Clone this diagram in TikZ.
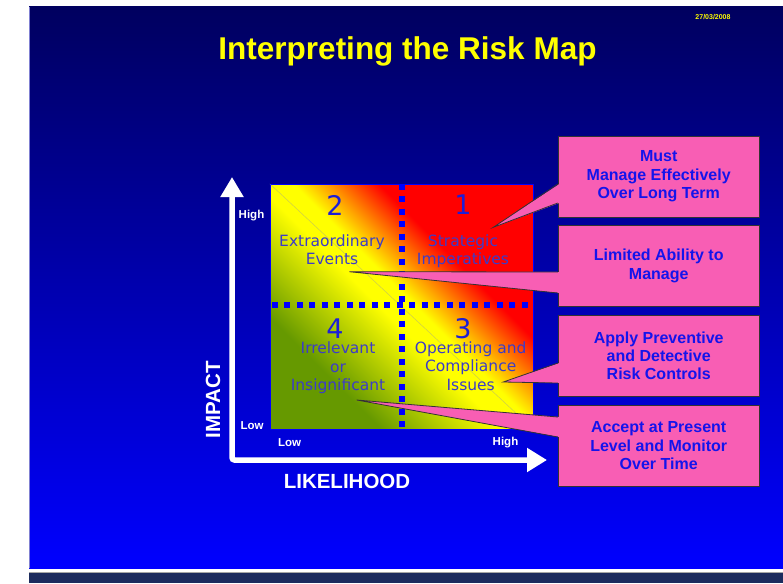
\documentclass[tikz,border=0pt]{standalone}
\usepackage{fontspec}
\setmainfont{Liberation Sans}
\newfontfamily\verd{DejaVu Sans}
\usetikzlibrary{arrows.meta,calc}
\definecolor{slidetop}{RGB}{0,0,95}
\definecolor{slidebot}{RGB}{0,0,255}
\definecolor{barcol}{RGB}{28,43,94}
\definecolor{rmgreen}{RGB}{102,153,0}
\definecolor{rmyellow}{RGB}{255,255,0}
\definecolor{rmorange}{RGB}{255,150,0}
\definecolor{rmred}{RGB}{255,0,0}
\definecolor{qtext}{RGB}{60,60,200}
\definecolor{qnum}{RGB}{30,30,215}
\definecolor{calloutpink}{RGB}{248,94,180}
\definecolor{calltext}{RGB}{20,20,235}
\definecolor{titleyellow}{RGB}{255,255,0}
\pgfdeclareverticalshading{riskmap}{100bp}{color(0bp)=(rmgreen); color(30bp)=(rmgreen); color(47bp)=(rmyellow); color(52bp)=(rmyellow); color(57bp)=(rmorange); color(64bp)=(rmred); color(100bp)=(rmred)}
\begin{document}
\begin{tikzpicture}[x=1pt,y=-1pt,
  qnumst/.style={font=\verd\fontsize{27}{27}\selectfont, text=qnum, inner sep=0pt},
  qtextst/.style={font=\verd\fontsize{15.5}{18.3}\selectfont, text=qtext, align=center, inner sep=0pt},
  axlab/.style={font=\bfseries\fontsize{11.5}{12}\selectfont, text=white, inner sep=0pt},
  axtitle/.style={font=\bfseries\fontsize{20.5}{22}\selectfont, text=white, inner sep=0pt},
  callbox/.style={draw=black!80, line width=0.8pt, fill=calloutpink, minimum width=201pt, minimum height=81pt, inner sep=0pt, align=center, text=calltext, font=\bfseries\fontsize{16}{18.3}\selectfont},
  pointer/.style={fill=calloutpink},
  pointeredge/.style={draw=black!80, line width=0.8pt},
  divider/.style={draw=blue, line width=6pt, dash pattern=on 6pt off 6.5pt},
  axisarrow/.style={draw=white, line width=5.5pt, rounded corners=2.5pt, {Triangle[width=22pt,length=20pt]}-{Triangle[width=23pt,length=20pt]}}
]
\useasboundingbox (0,0) rectangle (783,583);
% slide background
\shade[top color=slidetop, bottom color=slidebot] (29,7) rectangle (783,568);
\draw[line width=0.8pt, black!35!blue!50] (29.4,7) -- (29.4,568);
\fill[barcol] (29,572) rectangle (783,583);
\draw[line width=1pt, gray!70] (29,572.5) -- (783,572.5);
% title and date
\node[font=\bfseries\fontsize{31.5}{34}\selectfont, text=titleyellow, inner sep=0pt] (title) at (407.5,51.5) {Interpreting the Risk Map};
\node[font=\bfseries\fontsize{7}{8}\selectfont, text=titleyellow, inner sep=0pt] (date) at (713,17.3) {27/03/2008};
% risk map square
\node[draw=blue, line width=0.8pt, shading=riskmap, shading angle=-45, minimum width=263pt, minimum height=245pt, inner sep=0pt] (sq) at (401.7,306.7) {};
\draw[black!40, opacity=0.5, line width=0.5pt] (sq.north west) -- (sq.south east);
\draw[divider] (sq.north) -- (sq.south);
\draw[divider] ([xshift=2pt]sq.west |- 0,305) -- (sq.east |- 0,305);
% quadrant labels
\node[qnumst] (n2) at (335,205) {2};
\node[qnumst] (n1) at (463,205) {1};
\node[qnumst] (n4) at (335,328.3) {4};
\node[qnumst] (n3) at (463,328.3) {3};
\node[qtextst] (q2) at (332,250) {Extraordinary\\Events};
\node[qtextst] (q1) at (463,251.5) {Strategic\\Imperatives};
\node[qtextst] (q4) at (338,368) {Irrelevant\\or\\Insignificant};
\node[qtextst] (q3) at (470.7,366) {Operating and\\Compliance\\Issues};
% axes
\coordinate (ytip) at (232,177);
\coordinate (xtip) at (547,460);
\draw[axisarrow] (ytip) |- (xtip);
\node[axlab] (yhigh) at (251.5,215.7) {High};
\node[axlab] (ylow) at (252,425.7) {Low};
\node[axlab] (xlow) at (289.5,442.7) {Low};
\node[axlab] (xhigh) at (505.5,442.7) {High};
\node[axtitle, rotate=90] (impact) at (213,400) {IMPACT};
\node[axtitle] (likelihood) at (347,481) {LIKELIHOOD};
% callouts
\node[callbox] (c1) at (658.7,176.4) {Must\\Manage Effectively\\Over Long Term};
\node[callbox] (c2) at (658.7,265.8) {Limited Ability to\\Manage};
\node[callbox] (c3) at (658.7,355.8) {Apply Preventive\\and Detective\\Risk Controls};
\node[callbox] (c4) at (658.7,445.8) {Accept at Present\\Level and Monitor\\Over Time};
\coordinate (t1) at (493.3,227.3);
\coordinate (t2) at (349.3,271.7);
\coordinate (t3) at (503.3,382);
\coordinate (t4) at (356.7,400);
\fill[pointer] ($(c1.west |- 0,184)+(1.5,0)$) -- (t1) -- ($(c1.west |- 0,203)+(1.5,0)$) -- cycle;
\draw[pointeredge] (c1.west |- 0,184) -- (t1) -- (c1.west |- 0,203);
\fill[pointer] ($(c2.west |- 0,272)+(1.5,0)$) -- (t2) -- ($(c2.west |- 0,293)+(1.5,0)$) -- cycle;
\draw[pointeredge] (c2.west |- 0,272) -- (t2) -- (c2.west |- 0,293);
\fill[pointer] ($(c3.west |- 0,363)+(1.5,0)$) -- (t3) -- ($(c3.west |- 0,383)+(1.5,0)$) -- cycle;
\draw[pointeredge] (c3.west |- 0,363) -- (t3) -- (c3.west |- 0,383);
\fill[pointer] ($(c4.west |- 0,417)+(1.5,0)$) -- (t4) -- ($(c4.west |- 0,437)+(1.5,0)$) -- cycle;
\draw[pointeredge] (c4.west |- 0,417) -- (t4) -- (c4.west |- 0,437);
\end{tikzpicture}
\end{document}
